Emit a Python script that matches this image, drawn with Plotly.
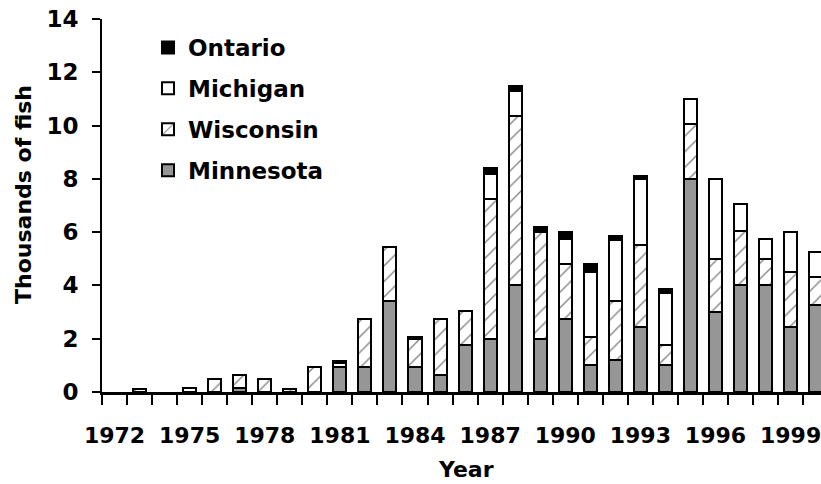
import plotly.graph_objects as go

years = list(range(1972, 2001))
minnesota = [0, 0, 0, 0, 0, 0.15, 0, 0, 0, 0.95, 0.95, 3.4, 0.95, 0.65, 1.75, 2.0, 4.0, 2.0, 2.75, 1.0, 1.2, 2.45, 1.0, 8.0, 3.0, 4.0, 4.0, 2.45, 3.25]
wisconsin = [0, 0.12, 0, 0.15, 0.5, 0.5, 0.5, 0.1, 0.95, 0.15, 1.8, 2.05, 1.05, 2.1, 1.3, 5.25, 6.35, 4.0, 2.05, 1.05, 2.2, 3.05, 0.75, 2.05, 2.0, 2.05, 1.0, 2.05, 1.05]
michigan = [0, 0, 0, 0, 0, 0, 0, 0, 0, 0, 0, 0, 0, 0, 0, 0.95, 0.95, 0.05, 0.95, 2.45, 2.3, 2.5, 1.95, 0.95, 3.0, 1.0, 0.75, 1.5, 0.95]
ontario = [0, 0, 0, 0, 0, 0, 0, 0, 0, 0.05, 0, 0, 0.05, 0, 0, 0.2, 0.2, 0.15, 0.25, 0.3, 0.15, 0.12, 0.15, 0, 0, 0, 0, 0, 0]
label_years = [1972, 1975, 1978, 1981, 1984, 1987, 1990, 1993, 1996, 1999]
y_ticks = [0, 2, 4, 6, 8, 10, 12, 14]

FONT = "DejaVu Sans"
W, H = 821, 484
L, R, T, B = 102, 0, 19, 92
pw, ph = W - L - R, H - T - B

def clean(v):
    return [x if x else None for x in v]

fig = go.Figure()
BW = 0.52
line = dict(color="black", width=2)
fig.add_bar(x=years, y=clean(minnesota), name="Minnesota", width=BW, legendgroup="d", legendrank=4,
            marker=dict(color="#969696", line=line))
fig.add_bar(x=years, y=clean(wisconsin), name="Wisconsin", width=BW, legendgroup="c", legendrank=3,
            marker=dict(color="white", line=line,
                        pattern=dict(shape="/", fgcolor="black", bgcolor="white", size=11, solidity=0.12)))
fig.add_bar(x=years, y=clean(michigan), name="Michigan", width=BW, legendgroup="b", legendrank=2,
            marker=dict(color="white", line=line))
fig.add_bar(x=years, y=clean(ontario), name="Ontario", width=BW, legendgroup="a", legendrank=1,
            marker=dict(color="black", line=line))

def px_x(p):
    return (p - L) / pw

def px_y(p):
    return 1 - (p - T) / ph

fig.update_layout(
    width=W, height=H,
    margin=dict(l=L, r=R, t=T, b=B, autoexpand=False),
    barmode="stack",
    plot_bgcolor="white", paper_bgcolor="white",
    font=dict(family=FONT, size=23, color="black", weight="bold"),
    showlegend=True,
    legend=dict(x=px_x(148), y=px_y(26), xanchor="left", yanchor="top",
                traceorder="grouped", tracegroupgap=8,
                bgcolor="rgba(0,0,0,0)", font=dict(family=FONT, size=23, weight="bold")),
    xaxis=dict(range=[1971.5, 1971.5 + pw / 25.04], showline=True, linecolor="black", linewidth=3,
               tickmode="array", tickvals=label_years, ticktext=[str(y) for y in label_years],
               ticks="", ticklen=0, ticklabelstandoff=22, ticklabeloverflow="allow",
               showgrid=False, zeroline=False,
               tickfont=dict(family=FONT, size=22, weight="bold"),
               minor=dict(tickmode="array", tickvals=[1971.5 + k for k in range(30)],
                          ticks="outside", ticklen=10, tickwidth=2, tickcolor="black", showgrid=False)),
    yaxis=dict(range=[0, 14], showline=True, linecolor="black", linewidth=2,
               tickmode="array", tickvals=y_ticks, ticks="outside", ticklen=8, tickwidth=2,
               tickcolor="black", showgrid=False, zeroline=False, ticklabelstandoff=9,
               tickfont=dict(family=FONT, size=23, weight="bold")),
    annotations=[
        dict(text="Year", x=px_x(466), y=px_y(470), xref="paper", yref="paper",
             showarrow=False, xanchor="center", yanchor="middle",
             font=dict(family=FONT, size=22, weight="bold")),
        dict(text="Thousands of fish", x=px_x(23), y=px_y(195), xref="paper", yref="paper",
             showarrow=False, xanchor="center", yanchor="middle", textangle=-90,
             font=dict(family=FONT, size=22, weight="bold")),
    ],
)

fig.write_html("out.html", config={"displayModeBar": False},
               post_script="document.body.style.margin='0';document.body.style.overflow='hidden';")
